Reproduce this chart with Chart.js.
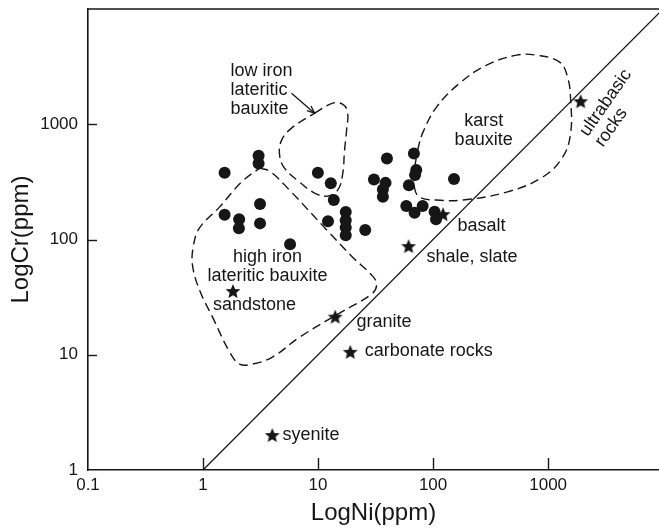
<!DOCTYPE html>
<html>
<head>
<meta charset="utf-8">
<script src="https://cdn.jsdelivr.net/npm/chart.js@4.4.0/dist/chart.umd.min.js"></script>
<style>
  html, body { margin: 0; padding: 0; background: #fff; }
  #chart { display: block; }
</style>
</head>
<body>
<canvas id="chart" width="659" height="528"></canvas>
<script>
// bauxite samples (Ni, Cr in ppm)
const sampleNi = [1.54, 3.04, 3.04, 1.54, 2.06, 2.05, 3.13, 3.13, 5.71, 9.96, 12.9, 13.7, 12.2,
    17.4, 17.4, 17.4, 17.4, 25.7, 30.6, 39.7, 38.6, 36.6, 36.6, 68.1, 71.4, 69.7, 61.6, 58.5,
    69.0, 81.1, 103, 106, 152];
const sampleCr = [380, 532, 457, 164, 150, 125, 203, 138, 91, 379, 308, 220, 144,
    173, 147, 127, 109, 121, 332, 505, 310, 272, 235, 558, 400, 362, 296, 195,
    171, 195, 174, 150, 335];

// average compositions of common rocks
const rockNames = ['ultrabasic rocks', 'basalt', 'shale, slate', 'granite', 'carbonate rocks', 'sandstone', 'syenite'];
const rockNi = [1918, 122, 61.2, 14.1, 19.05, 1.82, 4.0];
const rockCr = [1585, 166, 87.7, 21.4, 10.6, 35.7, 2.01];

// Ni = Cr reference line
const equalNi = [1, 10000];
const equalCr = [1, 10000];

// field outlines
const highIronNi = [3.10, 3.79, 5.65, 11.9, 19.95, 29.8, 32.3, 29.2, 15.4, 6.90, 4.02, 2.69, 2.08, 1.70, 1.21, 0.932, 0.810, 0.827, 0.932, 1.39, 2.16, 3.10];
const highIronCr = [416, 392, 268, 121, 70.3, 48.1, 40.3, 33.6, 23.0, 14.2, 9.55, 8.30, 8.30, 10.6, 21.2, 36.4, 60.0, 89.4, 126, 191, 315, 416];

const lowIronNi = [9.32, 13.4, 16.3, 18.05, 17.7, 17.0, 16.3, 14.8, 12.1, 9.32, 6.90, 5.11, 4.63, 4.82, 5.88, 9.32];
const lowIronCr = [1248, 1524, 1492, 1273, 889, 596, 361, 268, 238, 253, 315, 416, 540, 728, 925, 1248];

const karstNi = [73.3, 81.0, 107, 170, 292, 532, 794, 1259, 1477, 1569, 1569, 1337, 896, 436, 181, 107, 76.3, 69.0, 69.0, 73.3];
const karstCr = [596, 837, 1407, 2271, 3257, 3975, 3975, 3458, 2562, 1618, 837, 518, 348, 258, 220, 220, 233, 279, 400, 596];

// arrow from the "low iron" note to its field
const arrowNi = [5.88, 9.32];
const arrowCr = [1862, 1248];

const xTicks = [0.1, 1, 10, 100, 1000];
const yTicks = [1, 10, 100, 1000];

const INK = '#161616';
const FONT = '"Liberation Sans", Arial, sans-serif';

function pairs(xs, ys) {
    return xs.map((v, i) => ({ x: v, y: ys[i] }));
}

function makeStar(r) {
    const c = document.createElement('canvas');
    const s = Math.ceil(r * 2 + 2);
    c.width = s;
    c.height = s;
    const g = c.getContext('2d');
    g.translate(s / 2, s / 2 + r * 0.1);
    g.beginPath();
    for (let i = 0; i < 10; i++) {
        const rr = i % 2 ? r * 0.45 : r;
        const a = -Math.PI / 2 + i * Math.PI / 5;
        g.lineTo(rr * Math.cos(a), rr * Math.sin(a));
    }
    g.closePath();
    g.fillStyle = INK;
    g.fill();
    return c;
}

// notes, anchored in data space
const notes = [
    { lines: ['low iron', 'lateritic', 'bauxite'], x: 1.734, y: 2612, align: 'left' },
    { lines: ['karst', 'bauxite'], x: 275, y: 962, align: 'center' },
    { lines: ['ultrabasic', 'rocks'], x: 2205, y: 773, align: 'left', rot: -55 },
    { lines: ['basalt'], x: 163, y: 118, align: 'left' },
    { lines: ['shale, slate'], x: 87.7, y: 63.7, align: 'left' },
    { lines: ['high iron', 'lateritic bauxite'], x: 3.64, y: 63.7, align: 'center' },
    { lines: ['sandstone'], x: 2.80, y: 24.4, align: 'center' },
    { lines: ['granite'], x: 21.6, y: 17.4, align: 'left' },
    { lines: ['carbonate rocks'], x: 25.4, y: 9.75, align: 'left' },
    { lines: ['syenite'], x: 4.91, y: 1.82, align: 'left' }
];

const dashed = {
    type: 'scatter',
    showLine: true,
    tension: 0.4,
    pointRadius: 0,
    borderColor: INK,
    borderWidth: 1.4,
    borderDash: [9, 5],
    fill: false
};

const decor = {
    id: 'decor',
    afterDatasetsDraw(chart) {
        const { ctx, chartArea: a, scales: { x, y } } = chart;
        ctx.save();
        ctx.strokeStyle = INK;
        ctx.lineWidth = 1.6;
        ctx.beginPath();
        ctx.moveTo(a.left, a.top);
        ctx.lineTo(a.right, a.top);
        ctx.stroke();

        // inward tick marks
        ctx.lineWidth = 1.4;
        xTicks.slice(1).forEach(v => {
            const px = Math.round(x.getPixelForValue(v)) + 0.5;
            ctx.beginPath();
            ctx.moveTo(px, a.bottom);
            ctx.lineTo(px, a.bottom - 12);
            ctx.stroke();
        });
        yTicks.slice(1).forEach(v => {
            const py = Math.round(y.getPixelForValue(v)) + 0.5;
            ctx.beginPath();
            ctx.moveTo(a.left, py);
            ctx.lineTo(a.left + 9, py);
            ctx.stroke();
        });

        // arrow head
        const pts = chart.getDatasetMeta(2).data;
        const p0 = pts[0], p1 = pts[1];
        const ang = Math.atan2(p1.y - p0.y, p1.x - p0.x);
        ctx.lineWidth = 1.3;
        ctx.beginPath();
        ctx.moveTo(p1.x - 8 * Math.cos(ang - 0.4), p1.y - 8 * Math.sin(ang - 0.4));
        ctx.lineTo(p1.x, p1.y);
        ctx.lineTo(p1.x - 8 * Math.cos(ang + 0.4), p1.y - 8 * Math.sin(ang + 0.4));
        ctx.stroke();

        ctx.fillStyle = INK;
        ctx.font = '18px ' + FONT;
        ctx.textBaseline = 'alphabetic';
        notes.forEach(n => {
            ctx.save();
            ctx.translate(x.getPixelForValue(n.x), y.getPixelForValue(n.y));
            if (n.rot) ctx.rotate(n.rot * Math.PI / 180);
            ctx.textAlign = n.align;
            n.lines.forEach((t, i) => ctx.fillText(t, 0, i * 18.7));
            ctx.restore();
        });
        ctx.restore();
    }
};

new Chart(document.getElementById('chart'), {
    type: 'scatter',
    data: {
        datasets: [
            {
                label: 'bauxite',
                data: pairs(sampleNi, sampleCr),
                pointStyle: 'circle',
                pointRadius: 6,
                backgroundColor: INK,
                borderColor: INK,
                borderWidth: 0
            },
            {
                label: 'rocks',
                data: pairs(rockNi, rockCr),
                pointStyle: makeStar(7.8),
                pointRadius: 8
            },
            {
                label: 'arrow',
                type: 'scatter',
                data: pairs(arrowNi, arrowCr),
                showLine: true,
                pointRadius: 0,
                borderColor: INK,
                borderWidth: 1.3
            },
            {
                label: 'Ni = Cr',
                type: 'scatter',
                data: pairs(equalNi, equalCr),
                showLine: true,
                pointRadius: 0,
                borderColor: INK,
                borderWidth: 1.3
            },
            Object.assign({ label: 'high iron lateritic bauxite', data: pairs(highIronNi, highIronCr) }, dashed),
            Object.assign({ label: 'low iron lateritic bauxite', data: pairs(lowIronNi, lowIronCr) }, dashed),
            Object.assign({ label: 'karst bauxite', data: pairs(karstNi, karstCr) }, dashed)
        ]
    },
    options: {
        responsive: false,
        animation: false,
        layout: { autoPadding: false, padding: { top: 9, right: 0, left: 0, bottom: 0 } },
        plugins: {
            legend: { display: false },
            tooltip: { enabled: false }
        },
        scales: {
            x: {
                type: 'logarithmic',
                min: 0.1,
                max: 9200,
                afterBuildTicks: s => { s.ticks = xTicks.map(v => ({ value: v })); },
                afterFit: s => {
                    s.height = 58;
                    s.paddingLeft = 0;
                    s.paddingRight = 0;
                },
                grid: { display: false, drawTicks: false },
                border: { display: true, color: INK, width: 1.6 },
                ticks: {
                    autoSkip: false,
                    maxRotation: 0,
                    padding: 5,
                    color: INK,
                    font: { size: 17, family: FONT },
                    callback: v => String(v)
                },
                title: {
                    display: true,
                    text: 'LogNi(ppm)',
                    color: INK,
                    font: { size: 24, family: FONT },
                    padding: { top: 0, bottom: 0 }
                }
            },
            y: {
                type: 'logarithmic',
                min: 1,
                max: 10000,
                afterBuildTicks: s => { s.ticks = yTicks.map(v => ({ value: v })); },
                afterFit: s => {
                    s.width = 88;
                    s.paddingTop = 0;
                    s.paddingBottom = 0;
                },
                grid: { display: false, drawTicks: false },
                border: { display: true, color: INK, width: 1.6 },
                ticks: {
                    autoSkip: false,
                    padding: 10,
                    color: INK,
                    font: { size: 17, family: FONT },
                    callback: v => String(v)
                },
                title: {
                    display: true,
                    text: 'LogCr(ppm)',
                    color: INK,
                    font: { size: 24, family: FONT },
                    padding: { top: 7, bottom: 0 }
                }
            }
        }
    },
    plugins: [decor]
});
</script>
</body>
</html>
